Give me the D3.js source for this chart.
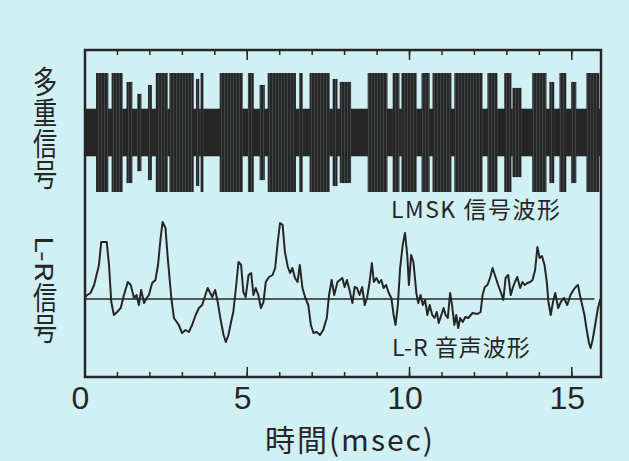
<!DOCTYPE html>
<html>
<head>
<meta charset="utf-8">
<script src="https://cdn.jsdelivr.net/npm/d3@7"></script>
<style>
  body { margin: 0; background: #d1f0f4; }
  svg { display: block; }
</style>
</head>
<body>
<div id="chart-area"></div>
<script>
const canvasWidth = 629;
const canvasHeight = 461;
const box = {left: 85, right: 601, top: 50, bottom: 377};

// time axis (msec)
const timeMax = 15.9;
const xTickLabels = [0, 5, 10, 15];
const minorTicks = d3.range(1, 16);

// LMSK multiplex signal: constant centre band + bursts [start ms, end ms, relative amplitude]
const lmskBand = 0.4;
const lmskBursts = [
  [0.34, 0.72, 1.0], [0.82, 1.16, 1.0], [1.28, 1.46, 0.85], [1.61, 1.74, 0.65],
  [1.94, 2.06, 0.8], [2.18, 2.55, 1.0], [2.60, 3.35, 1.0], [3.42, 3.52, 0.9],
  [3.56, 3.65, 1.0], [4.15, 4.86, 1.0], [5.02, 5.20, 1.0], [5.38, 5.54, 0.8],
  [5.63, 6.50, 1.0], [6.60, 6.71, 1.0], [6.92, 7.54, 1.0], [7.63, 7.78, 0.9],
  [7.85, 8.20, 0.85], [8.71, 9.32, 1.0], [9.48, 9.69, 1.0], [9.75, 10.22, 1.0],
  [10.37, 10.62, 1.0], [10.71, 11.29, 1.0], [11.38, 12.25, 1.0], [12.40, 12.71, 1.0],
  [12.92, 13.14, 1.0], [13.17, 13.45, 0.75], [13.78, 14.22, 1.0], [14.31, 14.46, 0.85],
  [14.62, 14.83, 1.0], [14.98, 15.14, 0.85], [15.45, 15.85, 1.0]
];

// L-R audio waveform
const lrTime = [
  0.00, 0.07, 0.17, 0.28, 0.43, 0.50, 0.67, 0.74, 0.81, 0.89, 0.99, 1.10, 1.20, 1.32, 1.41, 1.51,
  1.59, 1.66, 1.73, 1.82, 1.90, 1.97, 2.07, 2.17, 2.25, 2.33, 2.39, 2.48, 2.55, 2.66, 2.74, 2.89,
  2.99, 3.10, 3.20, 3.30, 3.41, 3.51, 3.61, 3.71, 3.78, 3.92, 4.01, 4.09, 4.17, 4.27, 4.34, 4.42,
  4.50, 4.57, 4.65, 4.73, 4.81, 4.88, 4.95, 5.04, 5.12, 5.19, 5.26, 5.34, 5.42, 5.50, 5.57, 5.67,
  5.78, 5.86, 5.94, 6.01, 6.09, 6.16, 6.25, 6.32, 6.39, 6.47, 6.55, 6.62, 6.70, 6.78, 6.88, 6.96,
  7.04, 7.14, 7.24, 7.34, 7.45, 7.52, 7.60, 7.68, 7.78, 7.93, 8.00, 8.07, 8.15, 8.24, 8.31, 8.38,
  8.46, 8.54, 8.62, 8.69, 8.77, 8.84, 8.90, 8.98, 9.06, 9.13, 9.20, 9.28, 9.36, 9.44, 9.51, 9.57,
  9.64, 9.71, 9.79, 9.86, 9.93, 9.98, 10.05, 10.12, 10.21, 10.27, 10.34, 10.41, 10.48, 10.55, 10.62, 10.70,
  10.77, 10.84, 10.90, 10.98, 11.05, 11.11, 11.18, 11.25, 11.31, 11.38, 11.44, 11.50, 11.56, 11.64, 11.72, 11.81,
  11.94, 12.09, 12.19, 12.25, 12.32, 12.40, 12.48, 12.56, 12.65, 12.73, 12.81, 12.89, 12.96, 13.04, 13.12, 13.19,
  13.25, 13.32, 13.41, 13.48, 13.55, 13.63, 13.72, 13.79, 13.87, 13.94, 14.01, 14.08, 14.16, 14.23, 14.28, 14.35,
  14.42, 14.49, 14.58, 14.66, 14.76, 14.86, 14.96, 15.05, 15.12, 15.19, 15.25, 15.32, 15.39, 15.45, 15.53, 15.58,
  15.64, 15.70, 15.80, 15.88
];
const lrValue = [
  2, 4, 6, 14, 34, 57, 57, 34, -3, -16, -13, -9, 4, 17, 14, 1,
  4, -6, 9, -4, 1, 4, 16, 19, 34, 61, 77, 71, 41, 1, -19, -26,
  -34, -31, -33, -26, -16, -9, -6, 4, 11, 2, 9, -3, -19, -36, -43, -36,
  -23, -13, 11, 37, 34, 7, 2, 24, 26, 4, 11, 4, -9, -3, 17, 22,
  24, 31, 57, 76, 74, 47, 32, 26, 31, 21, 17, 34, 11, 2, -6, -26,
  -34, -33, -36, -31, -19, 4, 19, 4, 17, 21, 12, 19, 9, -4, 12, 11,
  4, 12, -6, 1, 17, 36, 17, 21, 16, 19, 11, 14, 6, 1, -16, -26,
  -6, 31, 54, 66, 44, 14, 44, 37, 6, -4, 4, -6, -1, -16, -6, -16,
  -19, -13, -24, -16, -9, -16, -19, 6, -6, -26, -16, -29, -19, -23, -18, -19,
  -14, -15, -13, 4, 12, 14, 21, 31, 22, 14, 7, -1, 21, 24, 4, 12,
  17, 22, 11, 17, 14, 16, 17, 19, 29, 52, 41, 43, 34, 17, -3, -16,
  -3, 6, -9, -3, 1, -6, 4, 9, 12, 14, 4, -6, -16, -29, -44, -49,
  -41, -30, -10, 0
];

const ink = "#262626";
const canvas = d3.select("#chart-area").append("svg").attr("width", canvasWidth).attr("height", canvasHeight);

const xScale = d3.scaleLinear().domain([0, timeMax]).range([box.left, box.right]);
const yTop = d3.scaleLinear().domain([-1, 1]).range([192, 73]);
const yBottom = d3.scaleLinear().domain([-80, 80]).range([379, 219]);

// vertical stripe pattern so the bursts look like a dense carrier
const defs = canvas.append("defs");
const pat = defs.append("pattern").attr("id", "carrier").attr("patternUnits", "userSpaceOnUse")
  .attr("width", 3).attr("height", 10);
pat.append("rect").attr("width", 3).attr("height", 10).attr("fill", "#4f5a5c");
pat.append("rect").attr("width", 2.4).attr("height", 10).attr("fill", ink);

// top: multiplex signal
canvas.append("rect")
  .attr("x", xScale(0)).attr("width", xScale(timeMax) - xScale(0))
  .attr("y", yTop(lmskBand)).attr("height", yTop(-lmskBand) - yTop(lmskBand))
  .attr("fill", ink);

canvas.selectAll("rect.burst")
  .data(lmskBursts)
  .enter()
  .append("rect")
  .attr("class", "burst")
  .attr("x", d => xScale(d[0]))
  .attr("width", d => xScale(d[1]) - xScale(d[0]))
  .attr("y", d => yTop(d[2]))
  .attr("height", d => yTop(-d[2]) - yTop(d[2]))
  .attr("fill", "url(#carrier)");

// bottom: L-R signal
canvas.append("line")
  .attr("x1", xScale(0)).attr("x2", xScale(15.7))
  .attr("y1", yBottom(0)).attr("y2", yBottom(0))
  .attr("stroke", ink).attr("stroke-width", 1.6);

const lrLine = d3.line().x((d, i) => xScale(lrTime[i])).y(d => yBottom(d));
canvas.append("path")
  .attr("d", lrLine(lrValue))
  .attr("fill", "none").attr("stroke", ink).attr("stroke-width", 2).attr("stroke-linejoin", "round");

// frame and ticks
canvas.append("rect")
  .attr("x", box.left).attr("y", box.top)
  .attr("width", box.right - box.left).attr("height", box.bottom - box.top)
  .attr("fill", "none").attr("stroke", ink).attr("stroke-width", 2.5);

const tickGroup = canvas.append("g").attr("stroke", ink).attr("stroke-width", 1.5);
[[minorTicks, 5], [xTickLabels.slice(1), 10]].forEach(([vals, len]) => {
  tickGroup.selectAll(null).data(vals).enter().append("line")
    .attr("x1", d => xScale(d)).attr("x2", d => xScale(d))
    .attr("y1", box.top).attr("y2", box.top + len);
  tickGroup.selectAll(null).data(vals).enter().append("line")
    .attr("x1", d => xScale(d)).attr("x2", d => xScale(d))
    .attr("y1", box.bottom).attr("y2", box.bottom - len);
});

const xAxis = d3.axisBottom(xScale).tickValues(xTickLabels).tickSize(0).tickPadding(9);
const axisG = canvas.append("g").attr("transform", `translate(0, ${box.bottom})`).call(xAxis);
axisG.select(".domain").remove();
axisG.selectAll("text")
  .attr("font-family", "Liberation Sans, Arial, sans-serif")
  .attr("font-size", "32px").attr("fill", ink).attr("dx", -5);

// labels
const fontJP = "'Noto Sans CJK JP', sans-serif";
canvas.append("text")
  .attr("x", 350).attr("y", 451)
  .attr("text-anchor", "middle")
  .attr("font-family", fontJP).attr("font-size", "30px").attr("fill", ink)
  .attr("letter-spacing", "2px")
  .text("時間(msec)");

[["多重信号", 66], ["L-R信号", 236]].forEach(([label, y0]) => {
  canvas.append("text")
    .attr("transform", `translate(45, ${y0}) scale(0.78, 1)`)
    .attr("style", "writing-mode: vertical-rl")
    .attr("font-family", fontJP).attr("font-size", "31px").attr("fill", ink)
    .text(label);
});

canvas.append("text")
  .attr("x", 391).attr("y", 218)
  .attr("font-family", fontJP).attr("font-size", "23px").attr("fill", ink)
  .attr("letter-spacing", "1.5px")
  .text("LMSK 信号波形");

canvas.append("text")
  .attr("x", 392).attr("y", 356)
  .attr("font-family", fontJP).attr("font-size", "23px").attr("fill", ink)
  .attr("letter-spacing", "1px")
  .text("L-R 音声波形");
</script>
</body>
</html>
